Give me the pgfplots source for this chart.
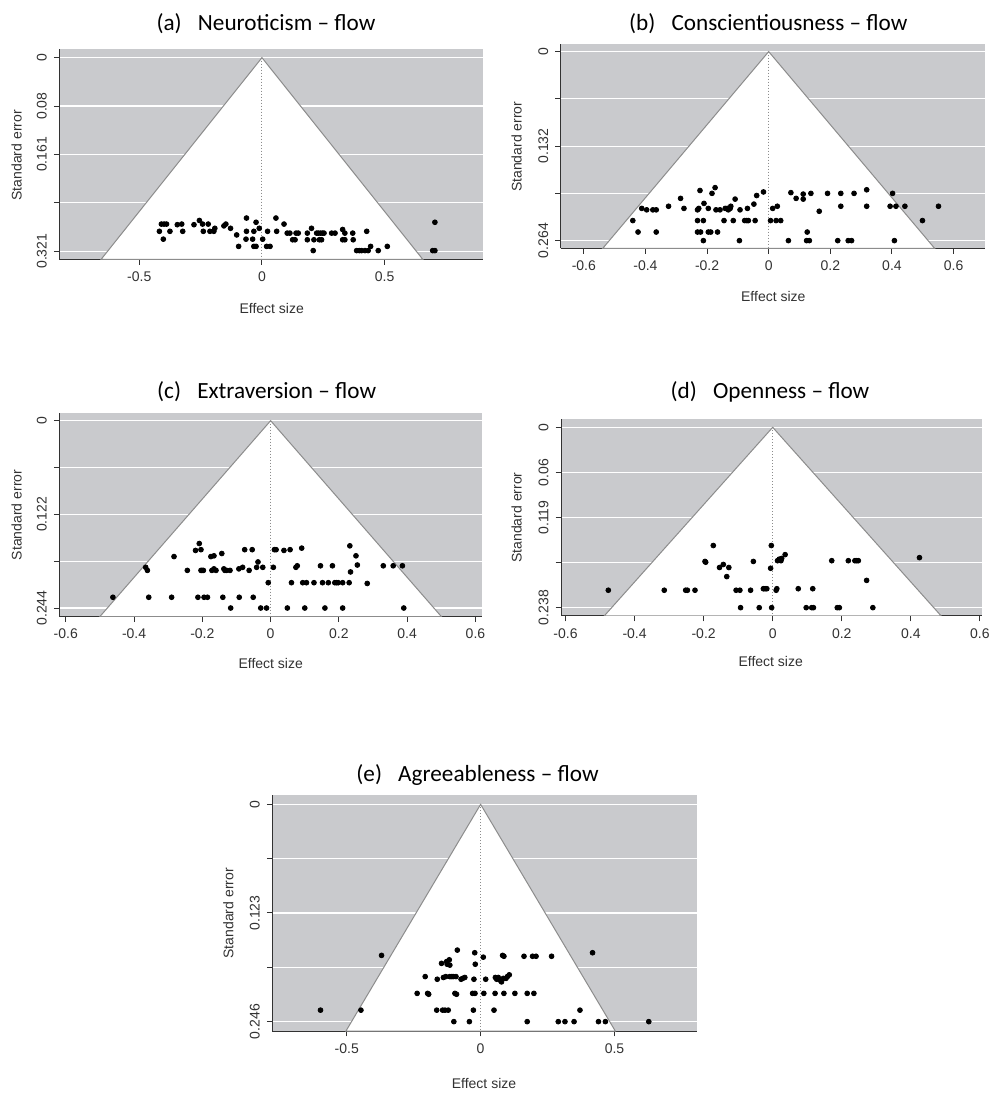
\documentclass[border=0pt]{standalone}
\usepackage{pgfplots}
\pgfplotsset{compat=1.18}
\usepackage{pgfplotstable}
\usepackage{fontspec}
\setmainfont{Liberation Sans}
\newfontfamily\titlefont{Carlito}
\definecolor{bggray}{RGB}{201,202,205}
\definecolor{edgegray}{RGB}{140,140,140}
\definecolor{axgray}{RGB}{50,50,50}

\pgfplotstableread{
es se
-0.418 0.288
-0.410 0.276
-0.399 0.276
-0.389 0.276
-0.402 0.301
-0.375 0.288
-0.345 0.277
-0.327 0.276
-0.323 0.288
-0.277 0.277
-0.255 0.270
-0.242 0.276
-0.239 0.288
-0.219 0.276
-0.212 0.288
-0.196 0.288
-0.192 0.283
-0.155 0.279
-0.147 0.276
-0.128 0.283
-0.103 0.294
-0.095 0.313
-0.065 0.301
-0.063 0.266
-0.063 0.288
-0.038 0.301
-0.033 0.288
-0.033 0.313
-0.024 0.313
-0.024 0.273
-0.011 0.283
0.003 0.301
0.019 0.313
0.033 0.313
0.023 0.288
0.057 0.266
0.060 0.288
0.090 0.276
0.103 0.291
0.114 0.291
0.125 0.302
0.135 0.302
0.139 0.291
0.148 0.291
0.185 0.291
0.185 0.302
0.202 0.283
0.209 0.320
0.212 0.302
0.223 0.291
0.230 0.291
0.234 0.302
0.239 0.291
0.243 0.302
0.247 0.291
0.253 0.291
0.284 0.291
0.298 0.291
0.329 0.285
0.329 0.302
0.338 0.291
0.338 0.302
0.370 0.291
0.372 0.302
0.386 0.320
0.397 0.320
0.406 0.320
0.420 0.320
0.427 0.288
0.433 0.320
0.443 0.313
0.474 0.320
0.511 0.313
0.696 0.320
0.705 0.320
0.705 0.273
}\tabA

\pgfplotstableread{
es se
-0.441 0.236
-0.424 0.252
-0.412 0.219
-0.396 0.221
-0.376 0.221
-0.365 0.221
-0.365 0.252
-0.325 0.216
-0.286 0.205
-0.275 0.219
-0.231 0.221
-0.231 0.236
-0.231 0.252
-0.227 0.219
-0.223 0.194
-0.221 0.252
-0.212 0.236
-0.212 0.264
-0.210 0.212
-0.196 0.219
-0.196 0.252
-0.188 0.252
-0.184 0.198
-0.174 0.190
-0.171 0.221
-0.166 0.252
-0.158 0.221
-0.145 0.236
-0.141 0.219
-0.134 0.219
-0.131 0.221
-0.125 0.219
-0.123 0.216
-0.115 0.236
-0.109 0.206
-0.093 0.221
-0.095 0.264
-0.078 0.236
-0.071 0.236
-0.069 0.219
-0.066 0.236
-0.048 0.213
-0.044 0.236
-0.039 0.201
-0.017 0.196
0.006 0.236
0.013 0.219
0.024 0.236
0.028 0.216
0.039 0.236
0.064 0.264
0.072 0.197
0.089 0.205
0.112 0.199
0.112 0.206
0.125 0.252
0.123 0.264
0.132 0.264
0.137 0.198
0.164 0.223
0.191 0.198
0.224 0.264
0.234 0.198
0.234 0.216
0.258 0.264
0.269 0.264
0.277 0.198
0.318 0.193
0.318 0.216
0.394 0.216
0.402 0.198
0.408 0.264
0.413 0.216
0.442 0.216
0.499 0.236
0.551 0.216
}\tabB

\pgfplotstableread{
es se
-0.462 0.230
-0.366 0.191
-0.361 0.195
-0.357 0.230
-0.290 0.230
-0.283 0.177
-0.244 0.195
-0.220 0.169
-0.209 0.160
-0.213 0.230
-0.204 0.168
-0.204 0.195
-0.201 0.195
-0.197 0.195
-0.195 0.230
-0.185 0.230
-0.175 0.177
-0.166 0.176
-0.172 0.195
-0.166 0.193
-0.160 0.195
-0.143 0.173
-0.140 0.230
-0.137 0.193
-0.134 0.195
-0.129 0.195
-0.119 0.195
-0.117 0.244
-0.093 0.193
-0.092 0.230
-0.082 0.191
-0.076 0.168
-0.063 0.195
-0.054 0.168
-0.051 0.230
-0.041 0.191
-0.037 0.184
-0.029 0.244
-0.023 0.191
-0.012 0.244
-0.007 0.211
0.008 0.191
0.011 0.168
0.016 0.168
0.039 0.169
0.049 0.244
0.057 0.168
0.061 0.211
0.074 0.191
0.078 0.189
0.091 0.166
0.094 0.211
0.100 0.244
0.105 0.211
0.127 0.211
0.146 0.189
0.152 0.211
0.159 0.244
0.169 0.211
0.181 0.189
0.188 0.211
0.193 0.211
0.198 0.211
0.211 0.211
0.211 0.244
0.230 0.211
0.232 0.163
0.234 0.197
0.250 0.176
0.254 0.188
0.283 0.212
0.330 0.189
0.359 0.189
0.386 0.189
0.390 0.244
}\tabC

\pgfplotstableread{
es se
-0.476 0.215
-0.314 0.215
-0.252 0.215
-0.247 0.215
-0.225 0.215
-0.196 0.177
-0.194 0.178
-0.172 0.156
-0.154 0.185
-0.143 0.181
-0.133 0.197
-0.127 0.185
-0.106 0.215
-0.095 0.215
-0.093 0.238
-0.064 0.215
-0.056 0.177
-0.039 0.238
-0.027 0.213
-0.022 0.213
-0.017 0.213
-0.006 0.186
-0.004 0.156
-0.003 0.238
0.010 0.215
0.012 0.213
0.014 0.176
0.019 0.174
0.024 0.176
0.026 0.173
0.036 0.168
0.074 0.213
0.097 0.238
0.113 0.238
0.116 0.213
0.118 0.238
0.171 0.176
0.187 0.238
0.193 0.238
0.219 0.176
0.238 0.176
0.243 0.176
0.248 0.176
0.272 0.202
0.290 0.238
0.425 0.172
}\tabD

\pgfplotstableread{
es se
-0.598 0.233
-0.447 0.233
-0.370 0.171
-0.237 0.214
-0.198 0.214
-0.194 0.215
-0.207 0.195
-0.164 0.233
-0.162 0.198
-0.146 0.180
-0.142 0.233
-0.139 0.196
-0.133 0.233
-0.130 0.195
-0.127 0.178
-0.125 0.181
-0.121 0.233
-0.117 0.176
-0.115 0.182
-0.115 0.195
-0.108 0.195
-0.102 0.195
-0.100 0.246
-0.096 0.214
-0.092 0.195
-0.090 0.215
-0.087 0.165
-0.073 0.198
-0.067 0.197
-0.059 0.196
-0.042 0.246
-0.030 0.214
-0.027 0.233
-0.025 0.198
-0.022 0.168
-0.021 0.214
-0.020 0.181
0.010 0.173
0.012 0.214
0.019 0.198
0.050 0.233
0.054 0.214
0.055 0.196
0.060 0.198
0.066 0.196
0.072 0.199
0.078 0.201
0.082 0.171
0.085 0.197
0.087 0.214
0.087 0.172
0.095 0.197
0.100 0.195
0.107 0.193
0.128 0.214
0.162 0.172
0.174 0.214
0.174 0.246
0.194 0.172
0.199 0.214
0.207 0.172
0.265 0.172
0.290 0.246
0.315 0.246
0.349 0.246
0.371 0.233
0.418 0.168
0.440 0.246
0.466 0.246
0.628 0.246
}\tabE

\pgfplotsset{
  funnel/.style={
    scale only axis,
    anchor=south west,
    axis x line*=bottom,
    axis y line*=left,
    axis line style={-, draw=axgray, line width=0.5pt},
    axis background/.style={fill=bggray},
    tick align=outside,
    major tick length=2.7pt,
    tick style={draw=axgray, line width=0.5pt},
    ymajorgrids,
    grid style={white, line width=0.6pt},
    ticklabel style={font=\fontsize{7}{8}\selectfont, text=axgray},
    yticklabel style={rotate=90, anchor=south},
    clip=true,
  },
  pts/.style={only marks, mark=*, mark size=1.2pt, mark options={fill=black, draw=black}},
  fun/.style={fill=white, draw=edgegray, line width=0.5pt},
  ctr/.style={densely dotted, draw=edgegray, line width=0.5pt},
}

\newcommand{\lbl}{\fontsize{7}{8}\selectfont\color{axgray}}
\newcommand{\ttl}{\titlefont\fontsize{11.6}{13}\selectfont}

\begin{document}
\begin{tikzpicture}
\path[use as bounding box] (0,0) rectangle (495.5pt,546.5pt);

% (a)
\begin{axis}[funnel, at={(29.65pt,416.85pt)}, width=211.85pt, height=105pt,
  xmin=-0.826, xmax=0.901, ymin=-0.3344, ymax=0.0139,
  xtick={-0.5,0,0.5}, xticklabels={-0.5,0,0.5},
  ytick={-0.321,-0.24075,-0.1605,-0.08025,0}, yticklabels={0.321,,0.161,0.08,0}]
\addplot[fun] coordinates {(-0.6554,-0.3344) (0,0) (0.6554,-0.3344)} -- cycle;
\addplot[ctr] coordinates {(0,0) (0,-0.3344)};
\addplot[pts] table[x=es, y expr=-\thisrow{se}] {\tabA};
\end{axis}

% (b)
\begin{axis}[funnel, at={(280.35pt,422.35pt)}, width=212.15pt, height=102pt,
  xmin=-0.675, xmax=0.702, ymin=-0.2747, ymax=0.0102,
  xtick={-0.6,-0.4,-0.2,0,0.2,0.4,0.6}, xticklabels={-0.6,-0.4,-0.2,0,0.2,0.4,0.6},
  ytick={-0.264,-0.198,-0.132,-0.066,0}, yticklabels={0.264,,0.132,,0}]
\addplot[fun] coordinates {(-0.5384,-0.2747) (0,0) (0.5384,-0.2747)} -- cycle;
\addplot[ctr] coordinates {(0,0) (0,-0.2747)};
\addplot[pts] table[x=es, y expr=-\thisrow{se}] {\tabB};
\end{axis}

% (c)
\begin{axis}[funnel, at={(29.65pt,238.15pt)}, width=211.5pt, height=102pt,
  xmin=-0.619, xmax=0.620, ymin=-0.2553, ymax=0.0104,
  xtick={-0.6,-0.4,-0.2,0,0.2,0.4,0.6}, xticklabels={-0.6,-0.4,-0.2,0,0.2,0.4,0.6},
  ytick={-0.244,-0.183,-0.122,-0.061,0}, yticklabels={0.244,,0.122,,0}]
\addplot[fun] coordinates {(-0.5004,-0.2553) (0,0) (0.5004,-0.2553)} -- cycle;
\addplot[ctr] coordinates {(0,0) (0,-0.2553)};
\addplot[pts] table[x=es, y expr=-\thisrow{se}] {\tabC};
\end{axis}

% (d)
\begin{axis}[funnel, at={(280.5pt,238.5pt)}, width=210.65pt, height=98.35pt,
  xmin=-0.613, xmax=0.607, ymin=-0.249, ymax=0.0106,
  xtick={-0.6,-0.4,-0.2,0,0.2,0.4,0.6}, xticklabels={-0.6,-0.4,-0.2,0,0.2,0.4,0.6},
  ytick={-0.238,-0.1785,-0.119,-0.0595,0}, yticklabels={0.238,,0.119,0.06,0}]
\addplot[fun] coordinates {(-0.488,-0.249) (0,0) (0.488,-0.249)} -- cycle;
\addplot[ctr] coordinates {(0,0) (0,-0.249)};
\addplot[pts] table[x=es, y expr=-\thisrow{se}] {\tabD};
\end{axis}

% (e)
\begin{axis}[funnel, at={(136.15pt,31pt)}, width=212.2pt, height=118pt,
  xmin=-0.778, xmax=0.807, ymin=-0.2566, ymax=0.0106,
  xtick={-0.5,0,0.5}, xticklabels={-0.5,0,0.5},
  ytick={-0.246,-0.1845,-0.123,-0.0615,0}, yticklabels={0.246,,0.123,,0}]
\addplot[fun] coordinates {(-0.5029,-0.2566) (0,0) (0.5029,-0.2566)} -- cycle;
\addplot[ctr] coordinates {(0,0) (0,-0.2566)};
\addplot[pts] table[x=es, y expr=-\thisrow{se}] {\tabE};
\end{axis}

% titles
\node[anchor=center] at (133pt,534.5pt) {\ttl (a)\hspace{0.7em}Neuroticism – flow};
\node[anchor=center] at (384.15pt,534.5pt) {\ttl (b)\hspace{0.7em}Conscientiousness – flow};
\node[anchor=center] at (133.35pt,350.65pt) {\ttl (c)\hspace{0.7em}Extraversion – flow};
\node[anchor=center] at (385pt,350.65pt) {\ttl (d)\hspace{0.7em}Openness – flow};
\node[anchor=center] at (238.75pt,159pt) {\ttl (e)\hspace{0.7em}Agreeableness – flow};

% x labels
\node at (135.85pt,392pt) {\lbl Effect size};
\node at (386.65pt,398.15pt) {\lbl Effect size};
\node at (135.35pt,214.85pt) {\lbl Effect size};
\node at (385.35pt,215.65pt) {\lbl Effect size};
\node at (242pt,5pt) {\lbl Effect size};

% y labels
\node[rotate=90] at (8.35pt,468.85pt) {\lbl Standard error};
\node[rotate=90] at (258.35pt,473.15pt) {\lbl Standard error};
\node[rotate=90] at (8.35pt,289pt) {\lbl Standard error};
\node[rotate=90] at (258.35pt,287.75pt) {\lbl Standard error};
\node[rotate=90] at (114.15pt,89.85pt) {\lbl Standard error};
\end{tikzpicture}
\end{document}
